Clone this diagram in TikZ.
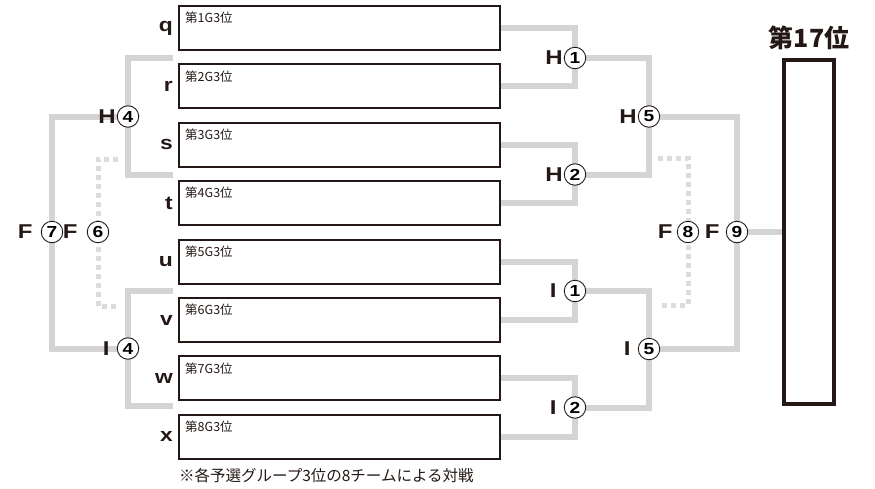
\documentclass[tikz,border=0pt]{standalone}
\usepackage{fontspec}
\setmainfont{Liberation Sans}
\newfontfamily\jp{Noto Sans CJK JP}
\newfontfamily\bred[FakeStretch=1.2]{Liberation Sans}
\usetikzlibrary{positioning,backgrounds}
\definecolor{linjegraa}{HTML}{D4D4D4}
\definecolor{prikkgraa}{HTML}{DCDCDC}
\definecolor{svart}{HTML}{231815}
\tikzset{
    %Define style for team boxes
    boks/.style={
           rectangle,
           draw=svart, line width=2pt,
           minimum width=321pt,
           minimum height=44pt},
    %Define style for match circles
    kamp/.style={
           circle,
           draw=svart, line width=0.9pt,
           fill=white,
           minimum size=21.5pt,
           inner sep=0pt,
           font=\bred\bfseries\fontsize{16}{16}\selectfont},
    % Define line styles
    linje/.style={
           draw=linjegraa,
           line width=6pt},
    prikk/.style={
           draw=prikkgraa,
           line width=5pt,
           dash pattern=on 5pt off 4pt}
}
\begin{document}
\begin{tikzpicture}[x=1pt, y=-1pt,
lbl/.style={font=\bred\bfseries\fontsize{20}{20}\selectfont, text=svart, inner sep=0pt},
bokst/.style={font=\bred\bfseries\fontsize{19}{19}\selectfont, text=svart, inner sep=0pt},
tekst/.style={font=\jp\fontsize{12.5}{12.5}\selectfont, text=svart, inner sep=0pt, anchor=north west}
]
\useasboundingbox (0,0) rectangle (875,488);
%Teams
\foreach \i/\b in {1/q,2/r,3/s,4/t,5/u,6/v,7/w,8/x}{
\node[boks] (lag\i) at (339.5, {28+58.4*(\i-1)}) {};
\node[tekst] at ([xshift=7pt, yshift=-7pt]lag\i.north west) {第\i G3位};
\node[bokst, left=5pt of lag\i] {\b};
}
\node[font=\jp\fontsize{15.5}{15.5}\selectfont, text=svart, inner sep=0pt, anchor=north west]
 (note) at ([xshift=1pt, yshift=-8pt]lag8.south west) {※各予選グループ3位の8チームによる対戦};
%Matches
\node[kamp, label={[lbl, label distance=1pt]left:H}] (h1) at (575,58) {1};
\node[kamp, label={[lbl, label distance=1pt]left:H}] (h2) at (575,174.5) {2};
\node[kamp, label={[lbl, label distance=7pt]left:I}] (i1) at (575,291) {1};
\node[kamp, label={[lbl, label distance=7pt]left:I}] (i2) at (575,407.5) {2};
\node[kamp, label={[lbl, label distance=1pt]left:H}] (h5) at (649,116.5) {5};
\node[kamp, label={[lbl, label distance=7pt]left:I}] (i5) at (649,349) {5};
\node[kamp, label={[lbl, label distance=4pt]left:F}] (f8) at (688,232) {8};
\node[kamp, label={[lbl, label distance=6pt]left:F}] (f9) at (737,232) {9};
\node[kamp, label={[lbl, label distance=1pt]left:H}] (h4) at (128,116.5) {4};
\node[kamp, label={[lbl, label distance=7pt]left:I}] (i4) at (128,348.5) {4};
\node[kamp, label={[lbl, label distance=8pt]left:F}] (f7) at (52,232) {7};
\node[kamp, label={[lbl, label distance=9pt]left:F}] (f6) at (98,232) {6};
%Final
\node[rectangle, draw=svart, line width=4pt, minimum width=50pt, minimum height=344pt] (final) at (809,232) {};
\node[font=\jp\bfseries\fontsize{25}{25}\selectfont, text=svart, above=5pt of final] (tittel) {第17位};
%Free ends
\coordinate (v1) at (173,58);
\coordinate (v2) at (173,174.5);
\coordinate (v3) at (173,291);
\coordinate (v4) at (173,406);
\coordinate (p1) at (658,158);
\coordinate (p2) at (658,305);
\coordinate (p3) at (118,159);
\coordinate (p4) at (118,306);
%Lines
\begin{scope}[on background layer]
\draw[linje] (lag1.east) -| (h1.center) |- (lag2.east);
\draw[linje] (lag3.east) -| (h2.center) |- (lag4.east);
\draw[linje] (lag5.east) -| (i1.center) |- (lag6.east);
\draw[linje] (lag7.east) -| (i2.center) |- (lag8.east);
\draw[linje] (h1) -| (h5.center) |- (h2);
\draw[linje] (i1) -| (i5.center) |- (i2);
\draw[linje] (h5) -| (f9.center) |- (i5);
\draw[linje] (f9) -- (final);
\draw[prikk] (p1) -| (f8.center) |- (p2);
\draw[linje] (v1) -| (h4.center) |- (v2);
\draw[linje] (v3) -| (i4.center) |- (v4);
\draw[linje] (h4) -| (f7.center) |- (i4);
\draw[prikk] (p3) -| (f6.center) |- (p4);
\end{scope}
\end{tikzpicture}
\end{document}
